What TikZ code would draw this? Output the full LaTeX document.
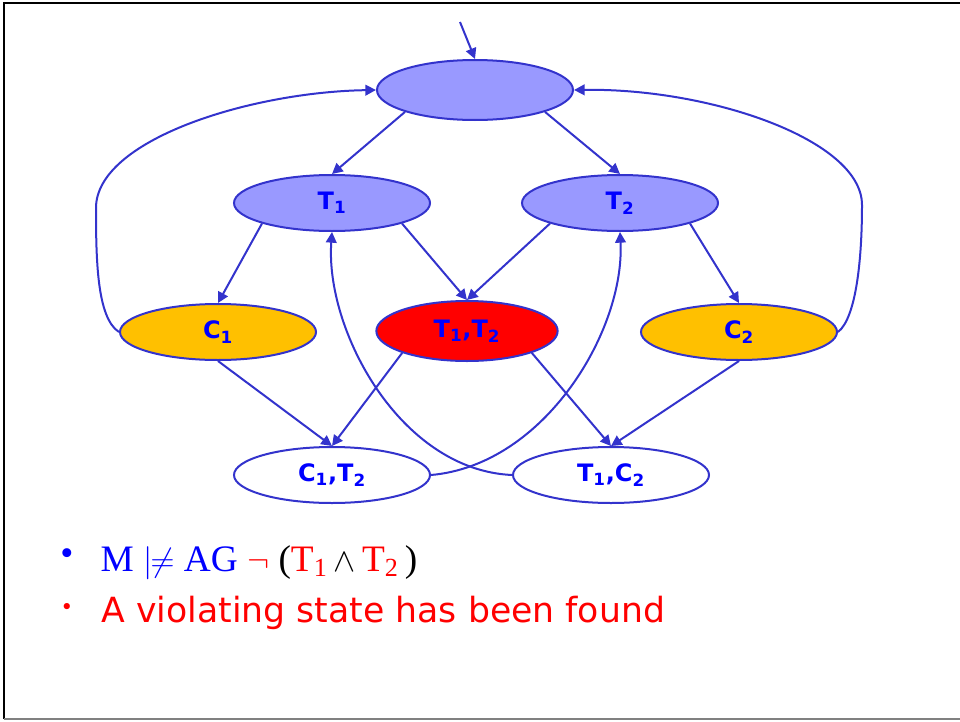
\documentclass[tikz,border=0pt]{standalone}
\usepackage{fontspec}
\usetikzlibrary{arrows.meta,positioning,shapes.geometric}
\newfontfamily\comic{DejaVu Sans}
\newfontfamily\tnr{Liberation Serif}
\definecolor{edge}{HTML}{3333CC}
\definecolor{lav}{HTML}{9999FF}
\definecolor{amb}{HTML}{FFC000}
\definecolor{txt}{HTML}{0000FF}
\newcommand{\ts}[2]{#1\textsubscript{#2}}
\tikzset{
  st/.style={ellipse,draw=edge,line width=1.5pt,fill=white,minimum width=147pt,minimum height=42pt,inner sep=0pt,text=txt,font=\comic\bfseries\fontsize{18}{18}\selectfont},
  ist/.style={st,fill=lav},
  cst/.style={st,fill=amb},
  bst/.style={st,fill=red,minimum width=136pt,minimum height=45pt},
  ar/.style={-{Triangle[length=8pt,width=8pt]},line width=1.5pt,draw=edge},
}

\begin{document}
\begin{tikzpicture}[x=0.75pt,y=-0.75pt]
  \useasboundingbox (0,0) rectangle (960,721);
  \draw[line width=2.2pt] (960,3) -- (4,3) -- (4,719);
  \draw[gray,line width=1pt] (4,719) -- (960,719);
  \node[ist,minimum height=45pt] (init) at (475,90) {};
  \node[ist] (t1) at (332,203) {\ts{T}{1}};
  \node[ist] (t2) at (620,203) {\ts{T}{2}};
  \node[cst] (c1) at (218,332) {\ts{C}{1}};
  \node[bst] (t12) at (467,331) {\ts{T}{1},\ts{T}{2}};
  \node[cst] (c2) at (739,332) {\ts{C}{2}};
  \node[st] (c1t2) at (332,475) {\ts{C}{1},\ts{T}{2}};
  \node[st] (t1c2) at (611,475) {\ts{T}{1},\ts{C}{2}};
  \coordinate (in) at (460,22);
  \draw[ar] (in) -- (init.north);
  \draw[ar] (init.south west) -- (t1.north);
  \draw[ar] (init.south east) -- (t2.north);
  \draw[ar] (t1.south west) -- (c1.north);
  \draw[ar] (t1.south east) -- (t12.north);
  \draw[ar] (t2.south west) -- (t12.north);
  \draw[ar] (t2.south east) -- (c2.north);
  \draw[ar] (c1.south) -- (c1t2.north);
  \draw[ar] (t12.south west) -- (c1t2.north);
  \draw[ar] (t12.south east) -- (t1c2.north);
  \draw[ar] (c2.south) -- (t1c2.north);
  \draw[ar] (c1t2.east) .. controls (545,465) and (625,330) .. (t2.south);
  \draw[ar] (t1c2.west) .. controls (400,470) and (325,330) .. (t1.south);
  \draw[ar] (c1.west) .. controls (97,318) and (96,260) .. (96,208) .. controls (96,140) and (250,92) .. (init.west);
  \draw[ar] (c2.east) .. controls (856,318) and (862,260) .. (862,205) .. controls (862,140) and (710,88) .. (init.east);
  \node[text=txt,font=\tnr\fontsize{28}{28}\selectfont] (b1) at (67,557) {•};
  \node[anchor=base west,font=\tnr\fontsize{28}{28}\selectfont] (f1) at (96,571)
       {\textcolor{txt}{M $|\!\!\neq$ AG} \textcolor{red}{$\neg$} (\textcolor{red}{\ts{T}{1}}\,$\wedge$\,\textcolor{red}{\ts{T}{2}}\,)};
  \node[text=red,font=\comic\fontsize{16}{16}\selectfont] (b2) at (67,609) {•};
  \node[anchor=base west,text=red,font=\comic\fontsize{26}{26}\selectfont] (f2) at (97,622)
       {A violating state has been found};
\end{tikzpicture}
\end{document}
